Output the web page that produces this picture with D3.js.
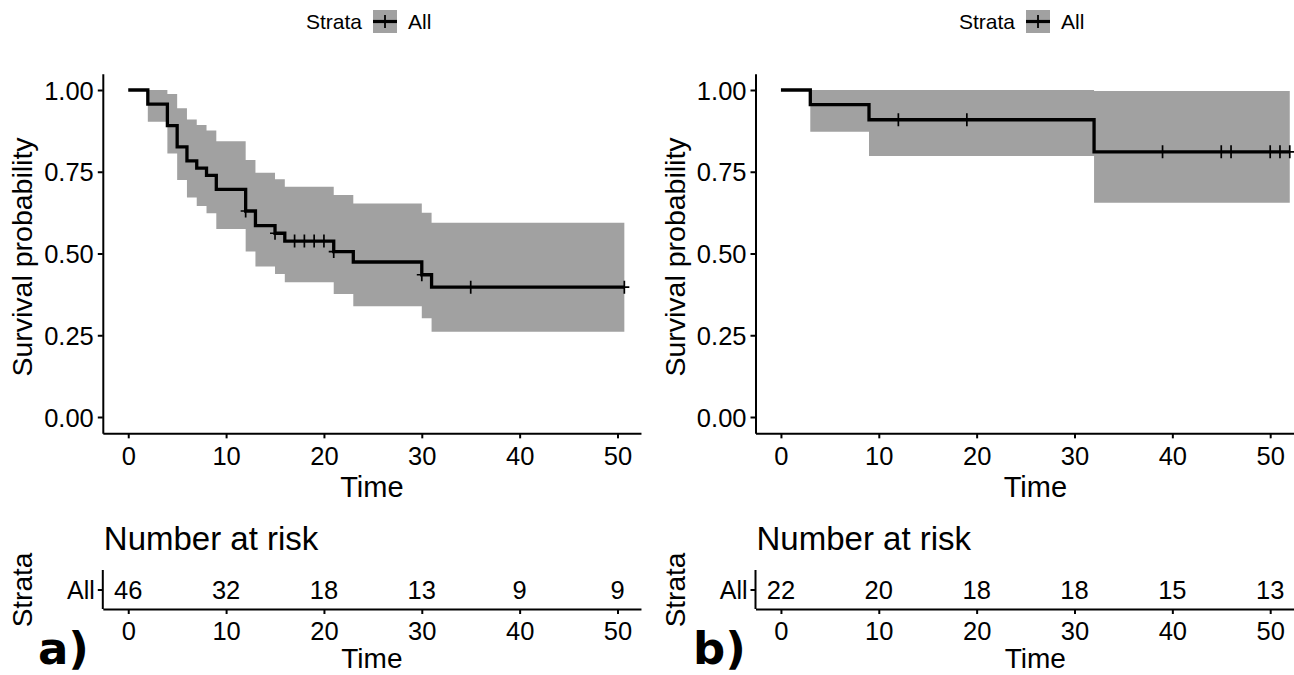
<!DOCTYPE html>
<html>
<head>
<meta charset="utf-8">
<script src="https://cdn.jsdelivr.net/npm/d3@7"></script>
<style>
  body { margin: 0; background: #fff; }
  text { font-family: "Liberation Sans", Arial, sans-serif; fill: #000; }
</style>
</head>
<body>
<div id="vis"></div>
<script>
// ---- data ----
// panel a) step curve
const timesA = [0, 2, 4, 5, 6, 7, 8, 9, 12, 13, 15, 16, 21, 23, 30, 31];
const survA  = [1, 0.957, 0.891, 0.826, 0.783, 0.761, 0.739, 0.696, 0.630, 0.585, 0.562, 0.538, 0.506, 0.474, 0.435, 0.397];
const upperA = [1, 1.000, 0.988, 0.944, 0.910, 0.893, 0.876, 0.843, 0.786, 0.747, 0.727, 0.704, 0.679, 0.653, 0.625, 0.594];
const lowerA = [1, 0.903, 0.806, 0.725, 0.671, 0.645, 0.623, 0.575, 0.506, 0.460, 0.437, 0.412, 0.376, 0.339, 0.302, 0.261];
const endA = 50.7;
const censorA = [12, 15, 17, 18, 19, 20, 21, 30, 35, 50.7];

// panel b) step curve
const timesB = [0, 3, 9, 32];
const survB  = [1, 0.955, 0.909, 0.811];
const upperB = [1, 1.000, 1.000, 0.997];
const lowerB = [1, 0.872, 0.798, 0.655];
const endB = 52;
const censorB = [12, 19, 39, 45, 46, 50, 51, 52];

// number at risk
const riskTimes = [0, 10, 20, 30, 40, 50];
const riskA = [46, 32, 18, 13, 9, 9];
const riskB = [22, 20, 18, 18, 15, 13];

const yTicks = [0, 0.25, 0.5, 0.75, 1];
const xTicks = [0, 10, 20, 30, 40, 50];
const strataName = "All";

const W = 1294, H = 675;
const svg = d3.select("#vis").append("svg")
  .attr("width", W).attr("height", H);

const bandColor = "#a1a1a1";

function drawPanel(p) {
  const g = svg.append("g");

  const x = d3.scaleLinear().domain(p.xDomain).range([p.left, p.left + (p.xDomain[1] - p.xDomain[0]) * p.pxPerUnit]);
  const y = d3.scaleLinear().domain([0, 1]).range([417, 90]);

  // legend
  const lg = g.append("g").attr("transform", "translate(" + p.legendX + ",0)");
  lg.append("text").attr("x", 0).attr("y", 29).style("font-size", "21px").text("Strata");
  lg.append("rect").attr("x", 67).attr("y", 10).attr("width", 24).attr("height", 23).attr("fill", bandColor);
  lg.append("line").attr("x1", 67).attr("x2", 91).attr("y1", 21.5).attr("y2", 21.5)
    .attr("stroke", "#000").attr("stroke-width", 3.2);
  lg.append("line").attr("x1", 79).attr("x2", 79).attr("y1", 15).attr("y2", 28)
    .attr("stroke", "#000").attr("stroke-width", 1.8);
  lg.append("text").attr("x", 102).attr("y", 29).style("font-size", "21px").text(strataName);

  // data rows
  const rows = p.times.map((t, i) => ({ t: t, s: p.surv[i], hi: p.upper[i], lo: p.lower[i] }));
  const last = rows[rows.length - 1];
  rows.push({ t: p.end, s: last.s, hi: last.hi, lo: last.lo });

  // confidence band
  g.append("path")
    .datum(rows)
    .attr("fill", bandColor)
    .attr("d", d3.area().curve(d3.curveStepAfter)
      .x(d => x(d.t)).y0(d => y(d.lo)).y1(d => y(d.hi)));

  // survival curve
  g.append("path")
    .datum(rows)
    .attr("fill", "none")
    .attr("stroke", "#000")
    .attr("stroke-width", 3.3)
    .attr("d", d3.line().curve(d3.curveStepAfter).x(d => x(d.t)).y(d => y(d.s)));

  // censor marks
  const survAt = t => {
    let s = 1;
    rows.forEach(d => { if (d.t <= t) s = d.s; });
    return s;
  };
  g.append("g").selectAll("path")
    .data(p.censor)
    .enter().append("path")
    .attr("transform", d => "translate(" + x(d) + "," + y(survAt(d)) + ")")
    .attr("d", "M-5,0H5M0,-6.5V6.5")
    .attr("stroke", "#000").attr("stroke-width", 1.7).attr("fill", "none");

  // axes
  const yAxisScale = d3.scaleLinear().domain([-0.05, 1.05]).range([y(-0.05), y(1.05)]);
  const ya = g.append("g")
    .attr("transform", "translate(" + x(p.xDomain[0]) + ",0)")
    .call(d3.axisLeft(yAxisScale).tickValues(yTicks).tickFormat(d3.format(".2f")).tickSize(5).tickSizeOuter(0).tickPadding(4));
  const xa = g.append("g")
    .attr("transform", "translate(0," + y(-0.05) + ")")
    .call(d3.axisBottom(x).tickValues(xTicks).tickSize(5).tickSizeOuter(0).tickPadding(4));
  [ya, xa].forEach(a => {
    a.select(".domain").attr("stroke-width", 2);
    a.selectAll(".tick line").attr("stroke-width", 2);
    a.selectAll("text").style("font-size", "25.5px").attr("font-family", null);
  });
  xa.selectAll(".tick text").attr("dy", null).attr("y", 0).attr("transform", "translate(0,32)");
  ya.selectAll(".tick text").attr("dy", "0.36em");

  g.append("text")
    .attr("x", (x(p.xDomain[0]) + x(p.xDomain[1])) / 2).attr("y", 497)
    .attr("text-anchor", "middle").style("font-size", "29px").text("Time");
  g.append("text")
    .attr("transform", "translate(" + (p.ylabX) + ",257) rotate(-90)")
    .attr("text-anchor", "middle").style("font-size", "28.5px").text("Survival probability");

  // ---- number at risk table ----
  const left = x(p.xDomain[0]);
  g.append("text").attr("x", left + 1).attr("y", 550).style("font-size", "33px").text("Number at risk");

  const rowY = 590, baseY = 609;
  g.append("line").attr("x1", left).attr("x2", left).attr("y1", 570).attr("y2", baseY)
    .attr("stroke", "#000").attr("stroke-width", 2);
  g.append("line").attr("x1", left - 5).attr("x2", left).attr("y1", rowY).attr("y2", rowY)
    .attr("stroke", "#000").attr("stroke-width", 2);
  g.append("text").attr("x", left - 8).attr("y", rowY).attr("dy", "0.36em")
    .attr("text-anchor", "end").style("font-size", "25px").text(strataName);

  g.append("g").selectAll("text")
    .data(p.risk)
    .enter().append("text")
    .attr("x", (d, i) => x(riskTimes[i]))
    .attr("y", rowY).attr("dy", "0.36em")
    .attr("text-anchor", "middle").style("font-size", "25.5px")
    .text(d => d);

  const ra = g.append("g")
    .attr("transform", "translate(0," + baseY + ")")
    .call(d3.axisBottom(x).tickValues(xTicks).tickSize(5).tickSizeOuter(0).tickPadding(4));
  ra.select(".domain").attr("stroke-width", 2);
  ra.selectAll(".tick line").attr("stroke-width", 2);
  ra.selectAll("text").style("font-size", "25.5px").attr("font-family", null)
    .attr("dy", null).attr("y", 0).attr("transform", "translate(0,31)");

  g.append("text")
    .attr("x", (x(p.xDomain[0]) + x(p.xDomain[1])) / 2).attr("y", 668)
    .attr("text-anchor", "middle").style("font-size", "28px").text("Time");
  g.append("text")
    .attr("transform", "translate(" + (p.ylabX) + ",590) rotate(-90)")
    .attr("text-anchor", "middle").style("font-size", "28px").text("Strata");

  g.append("text").attr("x", p.tagX).attr("y", 664)
    .style("font-family", "'DejaVu Sans', sans-serif").style("font-weight", "bold")
    .style("font-size", "45px").text(p.tag);
}

drawPanel({
  times: timesA, surv: survA, upper: upperA, lower: lowerA, end: endA, censor: censorA, risk: riskA,
  xDomain: [-2.6, 52.4], left: 102.8, pxPerUnit: 9.785,
  legendX: 306, ylabX: 32, tagX: 38, tag: "a)"
});

drawPanel({
  times: timesB, surv: survB, upper: upperB, lower: lowerB, end: endB, censor: censorB, risk: riskB,
  xDomain: [-2.6, 54.6], left: 755.5, pxPerUnit: 9.785,
  legendX: 959, ylabX: 685, tagX: 693, tag: "b)"
});
</script>
</body>
</html>
